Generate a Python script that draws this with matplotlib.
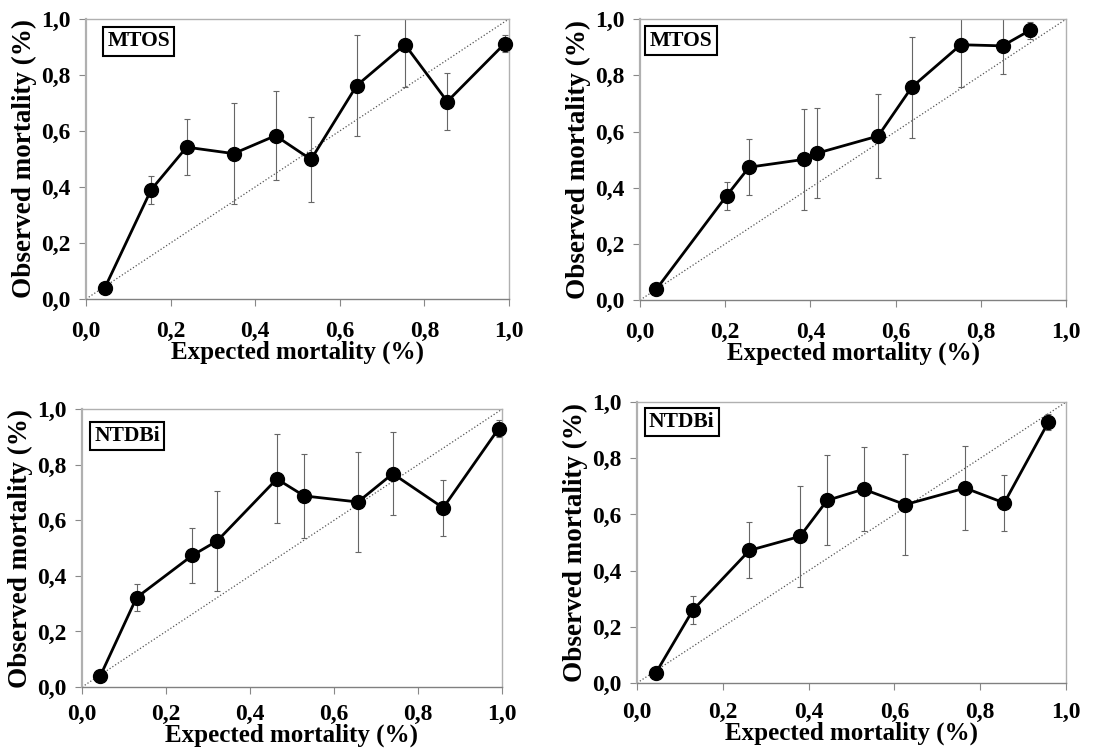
import matplotlib
matplotlib.use('Agg')
import matplotlib.pyplot as plt

plt.rcParams['font.family'] = ['Liberation Serif', 'DejaVu Serif']
plt.rcParams['font.weight'] = 'bold'

# half-width of the error bars, same for every panel
err = [0.01, 0.05, 0.10, 0.18, 0.16, 0.15, 0.18, 0.15, 0.10, 0.03]

# top left, MTOS
exp_1 = [0.044, 0.154, 0.238, 0.349, 0.448, 0.532, 0.640, 0.754, 0.854, 0.990]
obs_1 = [0.038, 0.390, 0.542, 0.519, 0.583, 0.498, 0.762, 0.908, 0.705, 0.912]

# top right, MTOS
exp_2 = [0.038, 0.203, 0.256, 0.386, 0.416, 0.559, 0.638, 0.753, 0.851, 0.915]
obs_2 = [0.038, 0.371, 0.473, 0.501, 0.523, 0.584, 0.758, 0.909, 0.905, 0.960]

# bottom left, NTDBi
exp_3 = [0.044, 0.130, 0.263, 0.322, 0.464, 0.529, 0.657, 0.740, 0.860, 0.992]
obs_3 = [0.041, 0.322, 0.474, 0.526, 0.749, 0.688, 0.666, 0.768, 0.645, 0.930]

# bottom right, NTDBi
exp_4 = [0.044, 0.130, 0.262, 0.380, 0.443, 0.528, 0.625, 0.765, 0.856, 0.959]
obs_4 = [0.036, 0.259, 0.472, 0.522, 0.650, 0.690, 0.635, 0.694, 0.641, 0.929]

ticks = [0.0, 0.2, 0.4, 0.6, 0.8, 1.0]
tick_labels = ['0,0', '0,2', '0,4', '0,6', '0,8', '1,0']

panels = [
    # x, y, name, axes rect, label box centre, x tick pad
    (exp_1, obs_1, 'MTOS', [0.0769, 0.604, 0.3784, 0.371], (0.125, 0.92), 11),
    (exp_2, obs_2, 'MTOS', [0.5725, 0.6026, 0.381, 0.372], (0.096, 0.923), 11),
    (exp_3, obs_3, 'NTDBi', [0.0733, 0.090, 0.3757, 0.368], (0.108, 0.903), 7),
    (exp_4, obs_4, 'NTDBi', [0.5698, 0.0954, 0.3837, 0.372], (0.104, 0.929), 9),
]

fig = plt.figure(figsize=(11.18, 7.55), dpi=100)

for x, y, name, rect, box, xpad in panels:
    ax = fig.add_axes(rect)
    ax.plot([0, 1], [0, 1], ls=':', color='#555555', lw=0.9)
    ax.errorbar(x, y, yerr=err, fmt='none', ecolor='#666666',
                elinewidth=0.8, capsize=2.5, capthick=0.8)
    ax.plot(x, y, '-o', color='black', lw=2.0, ms=10, clip_on=False, zorder=5)
    ax.set_xlim(0, 1)
    ax.set_ylim(0, 1)
    ax.set_xticks(ticks)
    ax.set_yticks(ticks)
    ax.set_xticklabels(tick_labels)
    ax.set_yticklabels(tick_labels)
    ax.tick_params(labelsize=17, length=5, width=0.8, color='#888888')
    ax.tick_params(axis='x', pad=xpad)
    ax.tick_params(axis='y', pad=6)
    for s in ['top', 'right', 'left']:
        ax.spines[s].set_color('#b0b0b0')
        ax.spines[s].set_linewidth(1.0)
    ax.spines['left'].set_linewidth(1.6)
    ax.spines['bottom'].set_color('#808080')
    ax.spines['bottom'].set_linewidth(1.0)
    ax.set_xlabel('Expected mortality (%)', fontsize=18, fontweight='bold',
                  labelpad=-1)
    ax.set_ylabel('Observed mortality (%)', fontsize=19.5, fontweight='bold',
                  labelpad=3)
    ax.text(box[0], box[1], name, transform=ax.transAxes, fontsize=15.5,
            fontweight='bold', ha='center', va='center', zorder=6,
            bbox=dict(boxstyle='square,pad=0.2', fc='white', ec='black', lw=1.5))

fig.savefig('out.png', dpi=100)
